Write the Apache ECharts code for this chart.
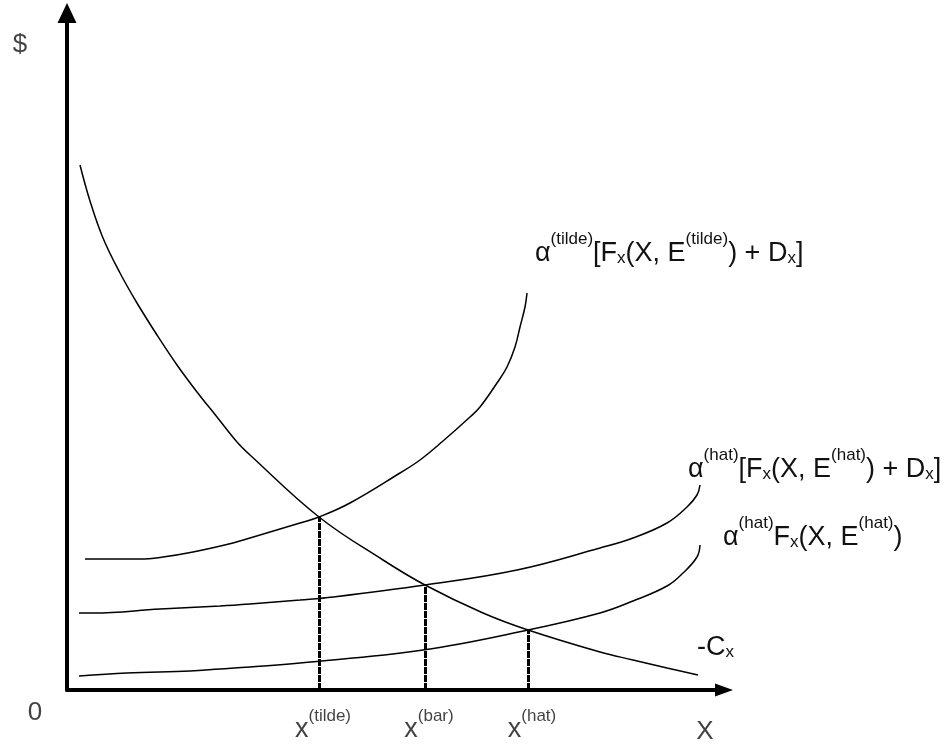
<!DOCTYPE html>
<html>
<head>
<meta charset="utf-8">
<script src="https://cdn.jsdelivr.net/npm/echarts@6/dist/echarts.min.js"></script>
<style>
  html, body { margin: 0; padding: 0; background: #fff; }
  #chart { width: 951px; height: 749px; }
</style>
</head>
<body>
<div id="chart"></div>
<script>
// values, x = quantity, y = $ (arbitrary units, origin at 0)
var costCurve = [[13,525],[23,489],[36,452],[53,417],[70,387],[90,355],[110,325],[130,298],[150,273],[170,248],[183,235],[252,173],[316,130],[358,105],[416,77],[461,60],[533,38],[566,30],[600,22],[631,15]];
var tildeCurve = [[18,131],[73,131],[96,133],[126,138],[166,147],[183,152],[233,167],[252,173],[283,187],[333,217],[353,230],[376,249],[403,273],[413,283],[430,307],[440,323],[448,343],[453,363],[458,383],[460,397]];
var hatFullCurve = [[12,77],[26,77],[93,81],[153,84],[183,86],[233,90],[266,93],[358,105],[450,120],[533,142],[566,152],[600,167],[620,183],[630,195],[633,205]];
var hatFCurve = [[12,14],[60,17],[123,19],[153,21],[183,23],[233,27],[356,40],[461,60],[533,77],[566,89],[600,104],[616,117],[630,133],[633,145]];

var solutionX = [252, 358, 461];
var solutionY = [173, 105, 60];
var solutionNames = ['tilde', 'bar', 'hat'];

var curveLabels = {
    cost: '{m|-C}{sub|x}',
    tilde: '{m|α}{sup|(tilde)}{m|[F}{sub|x}{m|(X, E}{sup|(tilde)}{m|) + D}{sub|x}{m|]}',
    hatFull: '{m|α}{sup|(hat)}{m|[F}{sub|x}{m|(X, E}{sup|(hat)}{m|) + D}{sub|x}{m|]}',
    hatF: '{m|α}{sup|(hat)}{m|F}{sub|x}{m|(X, E}{sup|(hat)}{m|)}'
};
var axisTexts = ['0', 'X', '$'];

var xMax = 657;
var yMax = 677;

var font = "'Liberation Sans', Arial, sans-serif";
var rich = {
    m: { fontSize: 27, lineHeight: 36, verticalAlign: 'bottom', fontFamily: font, color: '#111' },
    sup: { fontSize: 17, verticalAlign: 'top', fontFamily: font, color: '#111' },
    sub: { fontSize: 17, verticalAlign: 'bottom', fontFamily: font, color: '#111' }
};

var chart = echarts.init(document.getElementById('chart'));

function curve(name, data, labelOffset) {
    return {
        name: name,
        type: 'line',
        data: data,
        smooth: 0.4,
        symbol: 'none',
        clip: false,
        lineStyle: { color: '#000', width: 1.5 },
        endLabel: {
            show: true,
            formatter: curveLabels[name],
            distance: 0,
            offset: labelOffset,
            rich: rich
        }
    };
}

var drops = solutionX.map(function (x, i) {
    return [{ coord: [x, 0] }, { coord: [x, solutionY[i]] }];
});

var options = {
    animation: false,
    grid: { left: 67, right: 227, top: 13, bottom: 59 },
    xAxis: {
        type: 'value',
        min: 0,
        max: xMax,
        splitLine: { show: false },
        axisTick: { show: false },
        axisLabel: { show: false },
        axisLine: {
            lineStyle: { color: '#000', width: 4 },
            symbol: ['none', 'triangle'],
            symbolSize: [13, 18]
        }
    },
    yAxis: {
        type: 'value',
        min: 0,
        max: yMax,
        splitLine: { show: false },
        axisTick: { show: false },
        axisLabel: { show: false },
        axisLine: {
            lineStyle: { color: '#000', width: 4 },
            symbol: ['none', 'triangle'],
            symbolSize: [19, 20]
        }
    },
    series: [
        curve('cost', costCurve, [-1, -32]),
        curve('tilde', tildeCurve, [8, -44]),
        curve('hatFull', hatFullCurve, [-12, -20]),
        curve('hatF', hatFCurve, [23, -12]),
        {
            name: 'drops',
            type: 'line',
            data: [],
            markLine: {
                silent: true,
                symbol: 'none',
                label: { show: false },
                lineStyle: { color: '#000', width: 3, type: [7, 1] },
                data: drops
            }
        },
        {
            name: 'solutions',
            type: 'scatter',
            symbolSize: 1,
            itemStyle: { color: 'rgba(0,0,0,0)' },
            data: solutionX.map(function (x) { return [x, 0]; }),
            label: {
                show: true,
                position: 'bottom',
                distance: 17,
                offset: [4, 0],
                rich: rich,
                formatter: function (p) {
                    return '{m|x}{sup|(' + solutionNames[p.dataIndex] + ')}';
                }
            }
        },
        {
            name: 'axisTexts',
            type: 'scatter',
            symbolSize: 1,
            clip: false,
            itemStyle: { color: 'rgba(0,0,0,0)' },
            label: {
                show: true,
                position: 'inside',
                fontSize: 26,
                fontFamily: font,
                color: '#111',
                formatter: function (p) { return axisTexts[p.dataIndex]; }
            },
            data: [
                { value: [0, 0], label: { offset: [-32, 23] } },
                { value: [xMax, 0], label: { offset: [-19, 42] } },
                { value: [0, yMax], label: { offset: [-47, 32] } }
            ]
        }
    ]
};

chart.setOption(options);
</script>
</body>
</html>
